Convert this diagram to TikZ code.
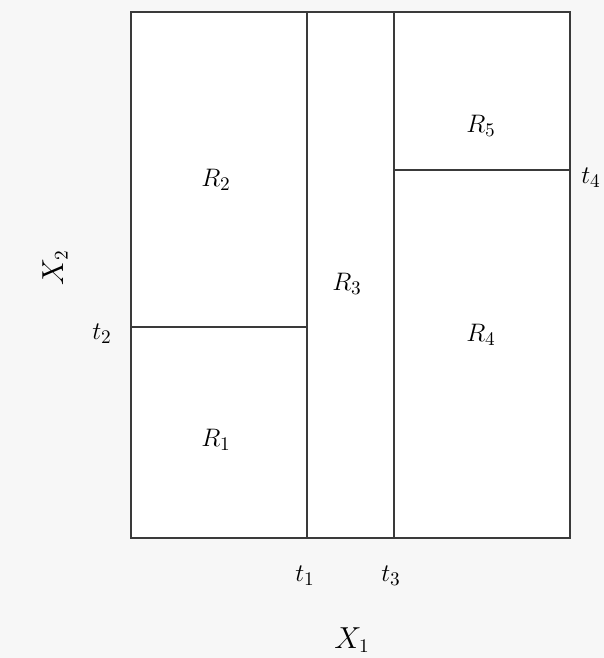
\documentclass[tikz,border=0pt]{standalone}
\usepackage{xcolor}
\usepackage{tikz}
\usetikzlibrary{positioning,calc}
\definecolor{ink}{HTML}{3A3A3A}
\definecolor{papergray}{HTML}{F7F7F7}
\tikzset{
  region/.style={font=\fontsize{15.5}{18}\selectfont},
  tick/.style={font=\fontsize{15}{18}\selectfont},
  axislabel/.style={font=\fontsize{16}{19}\selectfont},
  split/.style={draw=ink, line width=0.8pt}
}

\begin{document}
\begin{tikzpicture}[x=0.02cm, y=-0.02cm]
  \fill[papergray] (0,0) rectangle (604,658);
  \useasboundingbox (0,0) rectangle (604,658);
  % corners of the box
  \coordinate (sw) at (131,538);
  \coordinate (ne) at (570,12);
  \fill[white] (sw) rectangle (ne);
  % split points
  \coordinate (t1b) at (307,538);
  \coordinate (t1t) at (307,12);
  \coordinate (t3b) at (394,538);
  \coordinate (t3t) at (394,12);
  \coordinate (t2l) at (131,327);
  \coordinate (t2r) at (307,327);
  \coordinate (t4l) at (394,170);
  \coordinate (t4r) at (570,170);
  \draw[split] (t1b) -- (t1t);
  \draw[split] (t3b) -- (t3t);
  \draw[split] (t2l) -- (t2r);
  \draw[split] (t4l) -- (t4r);
  \draw[split, line width=1.1pt] (sw) rectangle (ne);
  % regions
  \node[region] (r1) at (216,440) {$R_1$};
  \node[region] (r2) at (216,180) {$R_2$};
  \node[region] (r3) at (347,284) {$R_3$};
  \node[region] (r4) at (481,335) {$R_4$};
  \node[region] (r5) at (481,126) {$R_5$};
  % ticks and axes
  \node[tick] (t1) at (305,576) {$t_1$};
  \node[tick] (t3) at (391,576) {$t_3$};
  \node[tick] (t2) at (102,334) {$t_2$};
  \node[tick] (t4) at (591,178) {$t_4$};
  \node[axislabel] (x1) at (352,640) {$X_1$};
  \node[axislabel, rotate=90] (x2) at (55,268) {$X_2$};
\end{tikzpicture}
\end{document}
